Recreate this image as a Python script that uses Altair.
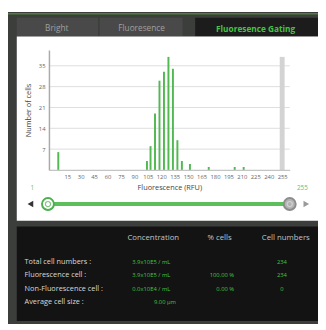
import altair as alt
import pandas as pd

# ---------------- data ----------------
bin_rfu = [5, 104, 108, 113, 118, 123, 128, 133, 138, 143, 152, 173, 202, 212]
cell_counts = [6, 3, 8, 19, 30, 33, 38, 34, 10, 3, 2, 1, 1, 1]
x_ticks = [15, 30, 45, 60, 75, 90, 105, 120, 135, 150, 165, 180, 195, 210, 225, 240, 255]
y_ticks = [7, 14, 21, 28, 35]
gate_rfu = [255]
slider_range = [1, 255]
tab_labels = ["Bright", "Fluoresence", "Fluoresence Gating"]
table_headers = ["Concentration", "% cells", "Cell numbers"]
row_labels = ["Total cell numbers :", "Fluorescence cell :", "Non-Fluorescence cell :", "Average  cell size :"]
concentration = ["3.9x10E5 / mL", "3.9x10E5 / mL", "0.0x10E4 / mL"]
pct_cells = ["", "100.00 %", "0.00 %"]
cell_numbers = ["234", "234", "0"]
avg_size = ["9.00 µm"]

# ---------------- layout / style ----------------
FONT = "Open Sans"
OX, OY = 50, 47          # page position of the plot origin
W, H = 247, 123
def X(p): return p - OX
def Y(p): return p - OY

FRAME = "#3c3e3c"
GREEN_LINE = "#4f7f3c"
TAB_GRAY = "#494949"
TAB_DARK = "#1c1c1c"
TABLE_BG = "#131313"
BAR_GREEN = "#52b852"
TRACK_GREEN = "#5cbf5c"
TEXT_GREEN = "#44c444"

one = pd.DataFrame({"k": [0]})

def box(x1, y1, x2, y2, color):
    return alt.Chart(one).mark_rect(color=color).encode(
        x=alt.value(X(x1)), x2=alt.value(X(x2)), y=alt.value(Y(y1)), y2=alt.value(Y(y2)))

def label(text, x, y, size, color, align="center", weight="normal"):
    return alt.Chart(one).mark_text(text=text, align=align, baseline="middle", fontSize=size,
                                    color=color, fontWeight=weight, font=FONT).encode(
        x=alt.value(X(x)), y=alt.value(Y(y)))

decor = [
    box(8, 8, 326, 328, FRAME),
    box(8, 9, 326, 10.5, GREEN_LINE),
    box(17, 14, 100.5, 33, TAB_GRAY),
    box(102, 14, 187, 33, TAB_GRAY),
    box(200, 14, 326, 33, TAB_DARK),
    box(17, 33, 326, 222, "#ffffff"),
    box(17, 228, 326, 325, TABLE_BG),
    label(tab_labels[0], 58, 24.5, 8.5, "#a0a0a0"),
    label(tab_labels[1], 145, 24.5, 8.5, "#a0a0a0"),
    label(tab_labels[2], 262, 25, 8.5, TEXT_GREEN, weight="bold"),
    label(str(slider_range[0]), 33, 189, 6.5, "#66c266"),
    label(str(slider_range[1]), 310, 189, 6.5, "#66c266"),
]

# ---------------- histogram ----------------
xs = alt.Scale(domain=[0, 258], nice=False, zero=False)
ys = alt.Scale(domain=[0, 40.3], nice=False)
x_axis = alt.Axis(values=x_ticks, title="Fluorescence (RFU)", grid=False, ticks=False,
                  labelFontSize=6, labelColor="#666666", labelPadding=4, labelOverlap=False,
                  labelFont=FONT, domainColor="#c4c4c4", domainWidth=1.2,
                  titleFont=FONT, titleFontSize=7.5, titleColor="#444444",
                  titleFontWeight="normal", titlePadding=4, zindex=1)
y_axis = alt.Axis(values=y_ticks, title="Number of cells", grid=False, ticks=False,
                  labelFontSize=6, labelColor="#666666", labelPadding=4, labelFont=FONT,
                  domainColor="#aaaaaa", domainWidth=1.5,
                  titleFont=FONT, titleFontSize=7.5, titleColor="#444444",
                  titleFontWeight="normal", titlePadding=6, zindex=1)

hist_df = pd.DataFrame({"rfu": bin_rfu, "cells": cell_counts})
gate_df = pd.DataFrame({"rfu": gate_rfu, "cells": [max(cell_counts)]})
grid_df = pd.DataFrame({"cells": y_ticks})

grid = alt.Chart(grid_df).mark_rule(color="#dddddd", strokeWidth=1).encode(
    y=alt.Y("cells:Q", scale=ys, axis=y_axis), x=alt.value(0), x2=alt.value(W))
gate = alt.Chart(gate_df).mark_bar(size=5, color="#d3d3d3").encode(
    x=alt.X("rfu:Q", scale=xs, axis=x_axis), y=alt.Y("cells:Q", scale=ys, axis=y_axis))
bars = alt.Chart(hist_df).mark_bar(size=2, color=BAR_GREEN).encode(
    x=alt.X("rfu:Q", scale=xs, axis=x_axis), y=alt.Y("cells:Q", scale=ys, axis=y_axis))
hist = alt.layer(grid, gate, bars)

# ---------------- slider ----------------
sl_df = pd.DataFrame({"lo": [slider_range[0]], "hi": [slider_range[1]]})
sl_scale = alt.Scale(domain=slider_range, range=[X(49), X(297)], nice=False, zero=False)
SY = Y(205)
track = alt.Chart(sl_df).mark_rule(color=TRACK_GREEN, strokeWidth=4).encode(
    x=alt.X("lo:Q", scale=sl_scale, axis=None), x2="hi:Q", y=alt.value(SY))
knob_lo = alt.Chart(sl_df).mark_point(shape="circle", filled=True, fill="#ffffff",
                                      stroke="#4caf50", strokeWidth=2, size=150, opacity=1).encode(
    x=alt.X("lo:Q", scale=sl_scale, axis=None), y=alt.value(SY))
knob_lo_in = alt.Chart(sl_df).mark_point(shape="circle", filled=False, stroke="#4caf50",
                                         strokeWidth=1.2, size=28).encode(
    x=alt.X("lo:Q", scale=sl_scale, axis=None), y=alt.value(SY))
knob_hi = alt.Chart(sl_df).mark_point(shape="circle", filled=True, fill="#b3b3b3",
                                      stroke="#8c8c8c", strokeWidth=2, size=150, opacity=1).encode(
    x=alt.X("hi:Q", scale=sl_scale, axis=None), y=alt.value(SY))
knob_hi_in = alt.Chart(sl_df).mark_point(shape="circle", filled=False, stroke="#e0e0e0",
                                         strokeWidth=1.2, size=28).encode(
    x=alt.X("hi:Q", scale=sl_scale, axis=None), y=alt.value(SY))
tri_l = alt.Chart(one).mark_point(shape="triangle-left", filled=True, size=45, color="#333333",
                                  opacity=1).encode(x=alt.value(X(31)), y=alt.value(SY))
tri_r = alt.Chart(one).mark_point(shape="triangle-right", filled=True, size=45, color="#9a9a9a",
                                  opacity=1).encode(x=alt.value(X(314)), y=alt.value(SY))

# ---------------- table ----------------
row_scale = alt.Scale(type="point", domain=row_labels, range=[Y(264), Y(306)], padding=0)
hdr_df = pd.DataFrame({"h": table_headers})
headers = alt.Chart(hdr_df).mark_text(fontSize=8, color="#c4c4c4", font=FONT, baseline="middle").encode(
    x=alt.X("h:N", scale=alt.Scale(type="point", domain=table_headers, range=[X(157), X(293)], padding=0), axis=None),
    y=alt.value(Y(240)), text="h:N")
rows_df = pd.DataFrame({"row": row_labels})
rows = alt.Chart(rows_df).mark_text(fontSize=7.5, color="#dadada", font=FONT, align="left", baseline="middle").encode(
    y=alt.Y("row:N", scale=row_scale, axis=None), x=alt.value(X(25)), text="row:N")
val_df = pd.DataFrame({"row": row_labels[:3], "conc": concentration, "pct": pct_cells, "num": cell_numbers})
conc_t = alt.Chart(val_df).mark_text(fontSize=6, color=TEXT_GREEN, font=FONT, baseline="middle").encode(
    y=alt.Y("row:N", scale=row_scale, axis=None), x=alt.value(X(155)), text="conc:N")
pct_t = alt.Chart(val_df).mark_text(fontSize=6, color=TEXT_GREEN, font=FONT, align="right", baseline="middle").encode(
    y=alt.Y("row:N", scale=row_scale, axis=None), x=alt.value(X(240)), text="pct:N")
num_t = alt.Chart(val_df).mark_text(fontSize=6, color=TEXT_GREEN, font=FONT, baseline="middle").encode(
    y=alt.Y("row:N", scale=row_scale, axis=None), x=alt.value(X(289)), text="num:N")
avg_df = pd.DataFrame({"row": row_labels[3:], "v": avg_size})
avg_t = alt.Chart(avg_df).mark_text(fontSize=6, color=TEXT_GREEN, font=FONT, baseline="middle").encode(
    y=alt.Y("row:N", scale=row_scale, axis=None), x=alt.value(X(169)), text="v:N")

chart = alt.layer(
    *decor, hist, track, knob_lo, knob_lo_in, knob_hi, knob_hi_in, tri_l, tri_r,
    headers, rows, conc_t, pct_t, num_t, avg_t
).resolve_scale(x="independent", y="independent").properties(
    width=W, height=H, padding=0, background="#ffffff"
).configure_view(strokeWidth=0)

chart.save("out.html", embed_options={"renderer": "svg", "actions": False})
